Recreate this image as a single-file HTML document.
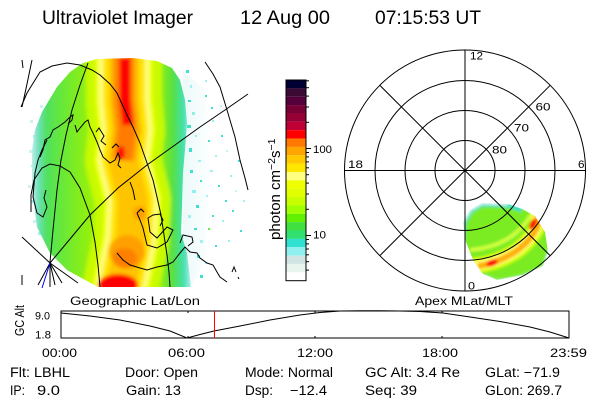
<!DOCTYPE html>
<html><head><meta charset="utf-8"><style>
html,body{margin:0;padding:0;background:#fff;}
svg{display:block;}
text{font-family:"Liberation Sans",sans-serif;fill:#000;}
</style></head><body>
<svg width="600" height="400" viewBox="0 0 600 400" xmlns="http://www.w3.org/2000/svg">
<defs>
<clipPath id="disk"><path d="M83,63 L97,59 L133,58 L157,61 L172,68 L180,80 L185,100 L187,123 L185,150 L183,173 L182,207 L181,233 L187,253 L191,287 L98,287 L87,281 L67,270 L50,253 L37,227 L32,190 L32,150 L35,130 L42,112 L57,87 L70,72 Z"/></clipPath>
<clipPath id="blob"><path d="M463,222 L470,210 L482,203 L508,204 L522,209 L535,216 L545,232 L548,252 L543,266 L523,275 L497,280 L483,274 L474,262 L466,242 Z"/></clipPath>
<linearGradient id="gbase" gradientUnits="userSpaceOnUse" x1="30" y1="0" x2="192" y2="0">
<stop offset="0" stop-color="#d8f4f0"/><stop offset="0.05" stop-color="#70e0c0"/><stop offset="0.1" stop-color="#50e060"/><stop offset="0.2" stop-color="#68e838"/><stop offset="0.35" stop-color="#90f010"/><stop offset="0.65" stop-color="#c0f800"/><stop offset="0.8" stop-color="#90f010"/><stop offset="0.88" stop-color="#58e040"/><stop offset="0.95" stop-color="#40e0b0"/><stop offset="1" stop-color="#c0f0f0"/>
</linearGradient>
<linearGradient id="gfr" gradientUnits="userSpaceOnUse" x1="183" y1="0" x2="215" y2="0">
<stop offset="0" stop-color="#c8f0f0"/><stop offset="1" stop-color="#ffffff"/>
</linearGradient>
<filter id="b1" x="-10%" y="-10%" width="120%" height="120%"><feGaussianBlur stdDeviation="1.8"/></filter>
<filter id="b2" x="-10%" y="-10%" width="120%" height="120%"><feGaussianBlur stdDeviation="1.2"/></filter>
</defs>

<!-- Title -->
<text x="42" y="24" font-size="19" textLength="151" lengthAdjust="spacingAndGlyphs">Ultraviolet Imager</text>
<text x="240" y="24" font-size="19" textLength="90" lengthAdjust="spacingAndGlyphs">12 Aug 00</text>
<text x="375" y="24" font-size="19" textLength="106" lengthAdjust="spacingAndGlyphs">07:15:53 UT</text>

<!-- Left image: scattered fringe -->
<path d="M183,70 L205,90 L210,170 L205,260 L190,287 L183,250 Z" fill="url(#gfr)" opacity="0.35"/>
<g>
<rect x="186" y="70" width="3" height="3" fill="#40e0d0"/><rect x="190" y="85" width="2" height="3" fill="#a0f0f0"/><rect x="188" y="100" width="3" height="2" fill="#40e0d0"/><rect x="192" y="112" width="3" height="3" fill="#90f0e0"/><rect x="187" y="125" width="4" height="3" fill="#40e0c0"/><rect x="195" y="135" width="2" height="2" fill="#a0f0f0"/><rect x="189" y="148" width="3" height="4" fill="#40e0d0"/><rect x="198" y="160" width="3" height="2" fill="#a0f0f0"/><rect x="190" y="170" width="3" height="3" fill="#40e0d0"/><rect x="200" y="180" width="2" height="2" fill="#40e0d0"/><rect x="192" y="190" width="4" height="3" fill="#90f0f0"/><rect x="196" y="205" width="3" height="3" fill="#40e0d0"/><rect x="188" y="215" width="3" height="3" fill="#a0f0f0"/><rect x="194" y="228" width="3" height="2" fill="#40e0d0"/><rect x="200" y="240" width="3" height="3" fill="#a0f0f0"/><rect x="197" y="255" width="3" height="3" fill="#40e0d0"/><rect x="205" y="262" width="2" height="2" fill="#a0f0f0"/><rect x="200" y="275" width="3" height="3" fill="#40e0d0"/>
<rect x="205" y="95" width="2" height="2" fill="#40e0d0"/><rect x="212" y="120" width="2" height="2" fill="#a0f0f0"/><rect x="208" y="140" width="2" height="2" fill="#40e0d0"/><rect x="215" y="155" width="2" height="2" fill="#a0f0f0"/><rect x="221" y="135" width="2" height="2" fill="#40e0d0"/><rect x="210" y="170" width="3" height="2" fill="#a0f0f0"/><rect x="218" y="185" width="2" height="2" fill="#40e0d0"/><rect x="206" y="195" width="2" height="2" fill="#a0f0f0"/><rect x="225" y="200" width="2" height="2" fill="#40e0d0"/><rect x="212" y="215" width="2" height="2" fill="#40e0d0"/><rect x="222" y="220" width="2" height="2" fill="#a0f0f0"/><rect x="230" y="175" width="2" height="2" fill="#a0f0f0"/><rect x="238" y="160" width="2" height="2" fill="#40e0d0"/><rect x="232" y="210" width="2" height="2" fill="#40e0d0"/><rect x="208" y="228" width="2" height="2" fill="#60f040"/><rect x="215" y="245" width="2" height="2" fill="#40e0d0"/><rect x="228" y="240" width="2" height="2" fill="#a0f0f0"/><rect x="240" y="230" width="2" height="2" fill="#40e0d0"/><rect x="243" y="200" width="2" height="2" fill="#a0f0f0"/><rect x="211" y="107" width="2" height="2" fill="#40e0d0"/><rect x="205" y="80" width="2" height="2" fill="#a0f0f0"/><rect x="220" y="105" width="2" height="2" fill="#d0f0f0"/><rect x="226" y="150" width="2" height="2" fill="#d0f0f0"/><rect x="235" y="190" width="2" height="2" fill="#d0f0f0"/>
<rect x="30" y="120" width="3" height="3" fill="#d0f0f0"/><rect x="33" y="135" width="3" height="3" fill="#a0f0f0"/><rect x="29" y="150" width="3" height="3" fill="#d0f0f0"/><rect x="31" y="165" width="2" height="2" fill="#a0f0f0"/><rect x="28" y="185" width="3" height="3" fill="#d0f0f0"/><rect x="31" y="200" width="3" height="3" fill="#a0f0f0"/><rect x="33" y="220" width="3" height="3" fill="#d0f0f0"/><rect x="38" y="232" width="3" height="3" fill="#a0f0f0"/><rect x="40" y="105" width="3" height="3" fill="#d0f0f0"/>
</g>

<!-- Left image: main disk -->
<g clip-path="url(#disk)">
<g filter="url(#b1)">
<rect x="20" y="45" width="185" height="250" fill="url(#gbase)"/>
<g fill="none" stroke-linejoin="round">
<path d="M124,40 L124,100 L127,130 L123,160 L133,200 L131,240 L118,300" stroke="#c8fa00" stroke-width="76"/>
<path d="M124,40 L124,100 L127,130 L123,160 L133,200 L131,240 L118,300" stroke="#ecff00" stroke-width="58"/>
<path d="M124,40 L124,100 L127,130 L123,160 L133,200 L131,240 L118,300" stroke="#ffff80" stroke-width="50"/>
<path d="M124,40 L124,100 L127,130 L123,160 L133,200 L131,240 L118,300" stroke="#ffe400" stroke-width="42"/>
<path d="M124,40 L124,100 L127,130 L123,160 L133,200 L131,240 L118,300" stroke="#ffc400" stroke-width="30"/>
<path d="M124,40 L124,100 L127,130 L123,160" stroke="#ffa000" stroke-width="24"/>
<path d="M124,40 L124,100 L127,130 L123,160" stroke="#ff7c00" stroke-width="17"/>
<path d="M125,58 L125,100 L128,125" stroke="#ff0000" stroke-width="11"/>
</g>
<ellipse cx="121" cy="153" rx="4" ry="7" fill="#ff0000"/>
<ellipse cx="140" cy="213" rx="7" ry="7" fill="#ffa000"/>
<ellipse cx="127" cy="252" rx="18" ry="17" fill="#ffa000"/>
<ellipse cx="125" cy="258" rx="12" ry="10" fill="#ff8000"/>
<ellipse cx="118" cy="285" rx="20" ry="11" fill="#ff0000"/>
</g>
</g>

<!-- Left map lines -->
<g fill="none" stroke="#000" stroke-width="1">
<polyline points="21,107 27,93 40,72 52,66 67,63 80,65 92,70 100,75 110,84 117,93 128,117 133,127 140,143 147,163 153,180 157,197 161,215 164,235 167,255 169,272 170,287"/>
<polyline points="32,60 27,84 22,107"/>
<polyline points="22,60 23,68"/>
<polyline points="88,63 80,85 72,110 66,135 61,160 57,190 53,230 50,262 50,287"/>
<polyline points="31,212 31,195 34,180 42,168 50,164 60,166 70,172 80,188 90,215 95,242 98,265 100,287"/>
<polyline points="50,263 70,239 90,215 118,188 147,165 175,145 200,127 225,110 248,94"/>
<polyline points="205,62 213,74 220,87 227,110 235,137 240,160 245,178 248,190"/>
<polyline points="50,263 22,237"/>
<polyline points="50,263 78,283"/>
<polyline points="50,263 38,285"/>
<polyline points="50,263 55,285"/>
<polyline points="50,263 62,283"/>
<polyline points="22,275 22,285"/>
<polyline points="40,157 43,150 45,140 50,137 53,130 58,127 65,122 70,117 73,115 72,120 68,124"/>
<polyline points="47,140 42,150 38,160 35,173 34,185 33,197 37,213 43,217 47,207 44,198 46,190"/>
<polyline points="75,125 77,132 80,128 85,122 88,120 90,127 93,133 97,142 100,150 103,157 110,163 115,160 118,153 120,158 118,165 121,168"/>
<polyline points="96,132 99,128 104,136 101,141 106,145"/>
<polyline points="112,148 116,144 119,147"/>
<polyline points="130,182 133,190 135,200"/>
<polyline points="117,253 123,260 130,265 140,268 147,270 157,267 167,265 173,262 180,253 185,247 190,252 197,253 200,258 207,263 213,265 217,272 220,277 227,282"/>
<polyline points="180,243 183,235 192,237 193,242 188,246"/>
<polyline points="137,213 140,220 143,228 147,245 157,248 167,242 173,230 167,227 157,238 150,232 148,218 153,215 160,214 163,220 160,226"/>
<polyline points="137,213 141,209 144,212"/>
<polyline points="232,272 234,267 236,272"/>
<polyline points="238,277 239,279"/>
</g>
<line x1="50" y1="263" x2="42" y2="288" stroke="#0000ff" stroke-width="1"/>

<!-- Colorbar -->
<g>
<rect x="286" y="80" width="20" height="8.4" fill="#000035"/>
<rect x="286" y="88.36" width="20" height="8.4" fill="#3a0a35"/>
<rect x="286" y="96.72" width="20" height="8.4" fill="#55003a"/>
<rect x="286" y="105.08" width="20" height="8.4" fill="#780035"/>
<rect x="286" y="113.44" width="20" height="8.4" fill="#960035"/>
<rect x="286" y="121.8" width="20" height="8.4" fill="#c00035"/>
<rect x="286" y="130.16" width="20" height="8.4" fill="#ff0000"/>
<rect x="286" y="138.52" width="20" height="8.4" fill="#ff7800"/>
<rect x="286" y="146.88" width="20" height="8.4" fill="#ffa500"/>
<rect x="286" y="155.24" width="20" height="8.4" fill="#ffc800"/>
<rect x="286" y="163.6" width="20" height="8.4" fill="#ffe600"/>
<rect x="286" y="171.96" width="20" height="8.4" fill="#ffff80"/>
<rect x="286" y="180.32" width="20" height="8.4" fill="#f0ff00"/>
<rect x="286" y="188.68" width="20" height="8.4" fill="#e0ff00"/>
<rect x="286" y="197.04" width="20" height="8.4" fill="#c8ff00"/>
<rect x="286" y="205.4" width="20" height="8.4" fill="#a0ff00"/>
<rect x="286" y="213.76" width="20" height="8.4" fill="#60f000"/>
<rect x="286" y="222.12" width="20" height="8.4" fill="#40e040"/>
<rect x="286" y="230.48" width="20" height="8.4" fill="#30e070"/>
<rect x="286" y="238.84" width="20" height="8.4" fill="#30e0d0"/>
<rect x="286" y="247.2" width="20" height="8.4" fill="#90f0f0"/>
<rect x="286" y="255.56" width="20" height="8.4" fill="#d0e4e4"/>
<rect x="286" y="263.92" width="20" height="8.4" fill="#e8f4ee"/>
<rect x="286" y="272.28" width="20" height="8.4" fill="#ffffff"/>
<rect x="286" y="80" width="20" height="200.7" fill="none" stroke="#000" stroke-width="1"/>
<g stroke="#000" stroke-width="1">
<line x1="306" y1="148.5" x2="311" y2="148.5"/>
<line x1="306" y1="235.5" x2="311" y2="235.5"/>
<line x1="306" y1="122.3" x2="309" y2="122.3"/>
<line x1="306" y1="107" x2="309" y2="107"/>
<line x1="306" y1="96.1" x2="309" y2="96.1"/>
<line x1="306" y1="87.7" x2="309" y2="87.7"/>
<line x1="306" y1="80.8" x2="309" y2="80.8"/>
<line x1="306" y1="209.3" x2="309" y2="209.3"/>
<line x1="306" y1="194" x2="309" y2="194"/>
<line x1="306" y1="183.1" x2="309" y2="183.1"/>
<line x1="306" y1="174.7" x2="309" y2="174.7"/>
<line x1="306" y1="167.8" x2="309" y2="167.8"/>
<line x1="306" y1="161.9" x2="309" y2="161.9"/>
<line x1="306" y1="156.9" x2="309" y2="156.9"/>
<line x1="306" y1="152.5" x2="309" y2="152.5"/>
<line x1="306" y1="239.5" x2="309" y2="239.5"/>
<line x1="306" y1="243.9" x2="309" y2="243.9"/>
<line x1="306" y1="249" x2="309" y2="249"/>
<line x1="306" y1="254.8" x2="309" y2="254.8"/>
<line x1="306" y1="261.7" x2="309" y2="261.7"/>
<line x1="306" y1="270.1" x2="309" y2="270.1"/>
</g>
<text x="313" y="153" font-size="11" textLength="19" lengthAdjust="spacingAndGlyphs">100</text>
<text x="313" y="238.5" font-size="11" textLength="13" lengthAdjust="spacingAndGlyphs">10</text>
<text transform="translate(280,240) rotate(-90)" font-size="15">photon cm<tspan dy="-5" font-size="10.5">−2</tspan><tspan dy="5" font-size="15">s</tspan><tspan dy="-5" font-size="10.5">−1</tspan></text>
</g>

<!-- Polar blob -->
<g clip-path="url(#blob)">
<g filter="url(#b2)">
<rect x="455" y="195" width="100" height="90" fill="#7cec24"/>
<path d="M460,250 L463,222 L470,210 L482,203 L508,204 L522,209" fill="none" stroke="#40e0c0" stroke-width="7"/>
<path d="M460,250 L463,222 L470,210 L482,203 L508,204" fill="none" stroke="#e0f6f4" stroke-width="3"/>
<path d="M483,277 L497,283 L523,278 L545,268 L551,250" fill="none" stroke="#d8f4f0" stroke-width="5"/>
<path d="M472,266 Q495,264 515,252 Q532,240 538,225 Q540,215 533,210" fill="none" stroke="#d8ff00" stroke-width="16"/>
<path d="M472,266 Q495,264 515,252 Q532,240 538,225 Q540,215 533,210" fill="none" stroke="#ffff70" stroke-width="10"/>
<path d="M478,266 Q495,264 515,252 Q532,240 538,225 Q540,217 535,213" fill="none" stroke="#ffb000" stroke-width="6"/>
<ellipse cx="492" cy="263" rx="6" ry="3" fill="#ff0000" transform="rotate(-20 492 263)"/>
<ellipse cx="533" cy="224" rx="3" ry="6" fill="#ff1000" transform="rotate(30 533 224)"/>
<path d="M470,250 Q495,248 512,236 Q525,226 530,216" fill="none" stroke="#d0ff40" stroke-width="4"/>
</g>
</g>

<!-- Polar grid -->
<g fill="none" stroke="#000" stroke-width="1">
<circle cx="465" cy="170.5" r="30"/>
<circle cx="465" cy="170.5" r="60"/>
<circle cx="465" cy="170.5" r="90"/>
<circle cx="465" cy="170.5" r="120.5"/>
<line x1="344.5" y1="170.5" x2="585.5" y2="170.5"/>
<line x1="465" y1="50" x2="465" y2="291"/>
<line x1="379.8" y1="85.3" x2="550.2" y2="255.7"/>
<line x1="550.2" y1="85.3" x2="379.8" y2="255.7"/>
</g>
<g font-size="11">
<text x="470" y="59.5" textLength="13" lengthAdjust="spacingAndGlyphs">12</text>
<text x="348" y="168" textLength="15" lengthAdjust="spacingAndGlyphs">18</text>
<text x="578" y="168" textLength="6.5" lengthAdjust="spacingAndGlyphs">6</text>
<text x="468" y="289.5" textLength="7" lengthAdjust="spacingAndGlyphs">0</text>
<text x="492" y="153.5" textLength="15" lengthAdjust="spacingAndGlyphs">80</text>
<text x="514" y="131.5" textLength="15" lengthAdjust="spacingAndGlyphs">70</text>
<text x="535.5" y="110.5" textLength="15" lengthAdjust="spacingAndGlyphs">60</text>
</g>

<!-- Bottom panel -->
<text x="70" y="305" font-size="11.5" textLength="130" lengthAdjust="spacingAndGlyphs">Geographic Lat/Lon</text>
<text x="415" y="305" font-size="11.5" textLength="98" lengthAdjust="spacingAndGlyphs">Apex MLat/MLT</text>
<text transform="translate(24,336) rotate(-90)" font-size="12.5" textLength="31" lengthAdjust="spacingAndGlyphs">GC Alt</text>
<text x="35" y="319.5" font-size="11" textLength="15" lengthAdjust="spacingAndGlyphs">9.0</text>
<text x="35" y="338.5" font-size="11" textLength="16" lengthAdjust="spacingAndGlyphs">1.8</text>
<rect x="61" y="311" width="508" height="27" fill="none" stroke="#000" stroke-width="1"/>
<polyline points="61,313 90,316 120,320 150,326 170,331 187,338 200,334.5 214,331 240,326 270,320 300,315 320,312.5 340,311 360,310.8 380,310.8 400,311 420,311.5 443,313 470,317 500,321.5 530,327 550,332 569,338" fill="none" stroke="#000" stroke-width="1"/>
<g stroke="#000" stroke-width="1">
<line x1="188" y1="311" x2="188" y2="313"/>
<line x1="315" y1="311" x2="315" y2="313"/>
<line x1="442" y1="311" x2="442" y2="313"/>
<line x1="188" y1="336" x2="188" y2="338"/>
<line x1="315" y1="336" x2="315" y2="338"/>
<line x1="442" y1="336" x2="442" y2="338"/>
</g>
<line x1="214.5" y1="311" x2="214.5" y2="338" stroke="#ff0000" stroke-width="1"/>
<g font-size="12">
<text x="42" y="357" textLength="35" lengthAdjust="spacingAndGlyphs">00:00</text>
<text x="168" y="357" textLength="37" lengthAdjust="spacingAndGlyphs">06:00</text>
<text x="297" y="357" textLength="36" lengthAdjust="spacingAndGlyphs">12:00</text>
<text x="422" y="357" textLength="36" lengthAdjust="spacingAndGlyphs">18:00</text>
<text x="550" y="357" textLength="37" lengthAdjust="spacingAndGlyphs">23:59</text>
</g>
<g font-size="13.5">
<text x="10" y="377" textLength="60" lengthAdjust="spacingAndGlyphs">Flt: LBHL</text>
<text x="125" y="377" textLength="73" lengthAdjust="spacingAndGlyphs">Door: Open</text>
<text x="245" y="377" textLength="88" lengthAdjust="spacingAndGlyphs">Mode: Normal</text>
<text x="365" y="377" textLength="95" lengthAdjust="spacingAndGlyphs">GC Alt: 3.4 Re</text>
<text x="485" y="377" textLength="75" lengthAdjust="spacingAndGlyphs">GLat: −71.9</text>
<text x="10" y="395" textLength="15" lengthAdjust="spacingAndGlyphs">IP:</text>
<text x="37" y="395" textLength="23" lengthAdjust="spacingAndGlyphs">9.0</text>
<text x="126" y="395" textLength="55" lengthAdjust="spacingAndGlyphs">Gain: 13</text>
<text x="245" y="395" textLength="28" lengthAdjust="spacingAndGlyphs">Dsp:</text>
<text x="290" y="395" textLength="37" lengthAdjust="spacingAndGlyphs">−12.4</text>
<text x="365" y="395" textLength="52" lengthAdjust="spacingAndGlyphs">Seq: 39</text>
<text x="485" y="395" textLength="77" lengthAdjust="spacingAndGlyphs">GLon: 269.7</text>
</g>
</svg>
</body></html>
